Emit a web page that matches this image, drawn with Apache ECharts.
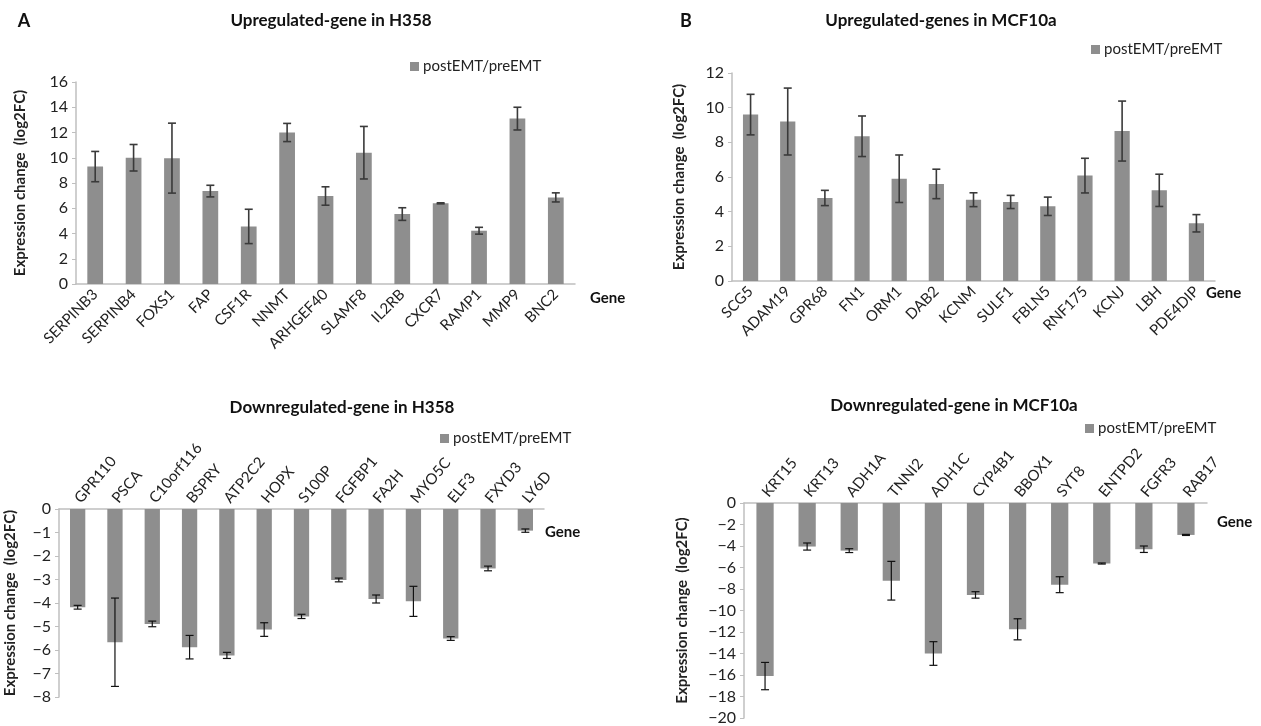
<!DOCTYPE html>
<html><head><meta charset="utf-8">
<script src="https://cdn.jsdelivr.net/npm/echarts@6/dist/echarts.min.js"></script>
<style>html,body{margin:0;padding:0;background:#fff}#c{width:1261px;height:726px}</style>
</head><body><div id="c"></div>
<script>
const catA = ['SERPINB3','SERPINB4','FOXS1','FAP','CSF1R','NNMT','ARHGEF40','SLAMF8','IL2RB','CXCR7','RAMP1','MMP9','BNC2'];
const valA = [9.3, 10.0, 9.97, 7.36, 4.56, 12.0, 6.97, 10.4, 5.54, 6.39, 4.22, 13.1, 6.86];
const errA = [1.2, 1.05, 2.77, 0.46, 1.36, 0.72, 0.73, 2.08, 0.5, 0.04, 0.27, 0.9, 0.36];

const catB = ['SCG5','ADAM19','GPR68','FN1','ORM1','DAB2','KCNM','SULF1','FBLN5','RNF175','KCNJ','LBH','PDE4DIP'];
const valB = [9.6, 9.2, 4.79, 8.35, 5.9, 5.6, 4.69, 4.56, 4.31, 6.08, 8.65, 5.23, 3.33];
const errB = [1.17, 1.93, 0.44, 1.17, 1.37, 0.85, 0.4, 0.38, 0.53, 1.0, 1.73, 0.93, 0.5];

const catC = ['GPR110','PSCA','C10orf116','BSPRY','ATP2C2','HOPX','S100P','FGFBP1','FA2H','MYO5C','ELF3','FXYD3','LY6D'];
const valC = [-4.18, -5.67, -4.89, -5.88, -6.23, -5.13, -4.57, -3.02, -3.83, -3.93, -5.51, -2.53, -0.92];
const errC = [0.08, 1.88, 0.12, 0.5, 0.13, 0.29, 0.09, 0.08, 0.17, 0.64, 0.08, 0.1, 0.07];

const catD = ['KRT15','KRT13','ADH1A','TNNI2','ADH1C','CYP4B1','BBOX1','SYT8','ENTPD2','FGFR3','RAB17'];
const valD = [-16.1, -4.05, -4.43, -7.23, -14.0, -8.55, -11.75, -7.6, -5.63, -4.3, -2.97];
const errD = [1.27, 0.33, 0.18, 1.8, 1.1, 0.3, 0.98, 0.74, 0.05, 0.3, 0.05];

const seriesName = 'postEMT/preEMT';
const FONT = 'Lato';
const axisGray = '#bfbfbf';
const barColor = '#8e8e8e';

const panels = [
  {cat: catA, val: valA, err: errA, grid: {left: 76, top: 82, width: 499, height: 202}, min: 0, max: 16, interval: 2, top: false, rot: 45, nameGap: 48, errColor: '#3a3a3a', errW: 1.6},
  {cat: catB, val: valB, err: errB, grid: {left: 732, top: 73, width: 483, height: 208}, min: 0, max: 12, interval: 2, top: false, rot: 45, nameGap: 45, errColor: '#3a3a3a', errW: 1.6},
  {cat: catC, val: valC, err: errC, grid: {left: 59, top: 509, width: 485, height: 188}, min: -8, max: 0, interval: 1, top: true, rot: 50, nameGap: 41, errColor: '#111', errW: 1.2},
  {cat: catD, val: valD, err: errD, grid: {left: 744, top: 503, width: 463, height: 217}, min: -20, max: 0, interval: 2, top: true, rot: 50, nameGap: 54, errColor: '#111', errW: 1.2}
];

const grids = [], xAxes = [], yAxes = [], series = [];
panels.forEach((p, i) => {
  grids.push(Object.assign({containLabel: false}, p.grid));
  xAxes.push({
    type: 'category', gridIndex: i, data: p.cat, position: p.top ? 'top' : 'bottom',
    axisLine: {lineStyle: {color: axisGray, width: 1.5}}, axisTick: {show: false},
    axisLabel: {interval: 0, rotate: p.rot, fontFamily: FONT, fontSize: 15, color: '#222', margin: 8}
  });
  yAxes.push({
    type: 'value', gridIndex: i, min: p.min, max: p.max, interval: p.interval,
    name: 'Expression change  (log2FC)', nameLocation: 'middle', nameGap: p.nameGap,
    nameTextStyle: {fontFamily: FONT, fontSize: 15, fontWeight: 'bold', color: '#222'},
    axisLine: {show: true, lineStyle: {color: axisGray, width: 1.5}},
    axisTick: {show: true, length: 4, lineStyle: {color: axisGray}},
    splitLine: {show: false},
    axisLabel: {fontFamily: FONT, fontSize: 16, color: '#222', margin: 8,
      formatter: v => String(v).replace('-', '\u2212')}
  });
  series.push({
    name: seriesName, type: 'bar', xAxisIndex: i, yAxisIndex: i, data: p.val,
    barWidth: '41%', itemStyle: {color: barColor}, silent: true
  });
  const ec = p.errColor, ew = p.errW;
  series.push({
    type: 'custom', xAxisIndex: i, yAxisIndex: i, z: 5, silent: true,
    data: p.val.map((v, k) => [k, v, p.err[k]]),
    encode: {x: 0, y: 1},
    renderItem: function (params, api) {
      const x = api.value(0), v = api.value(1), e = api.value(2);
      const a = api.coord([x, v + e]), b = api.coord([x, v - e]);
      const hw = 4;
      const st = {stroke: ec, lineWidth: ew};
      return {type: 'group', children: [
        {type: 'line', shape: {x1: a[0], y1: a[1], x2: b[0], y2: b[1]}, style: st},
        {type: 'line', shape: {x1: a[0] - hw, y1: a[1], x2: a[0] + hw, y2: a[1]}, style: st},
        {type: 'line', shape: {x1: b[0] - hw, y1: b[1], x2: b[0] + hw, y2: b[1]}, style: st}
      ]};
    }
  });
});

const legendPos = [{left: 405, top: 54}, {left: 1086, top: 37}, {left: 435, top: 426}, {left: 1080, top: 416}];
const legends = legendPos.map(pos => ({
  left: pos.left, top: pos.top, data: [{name: seriesName, icon: 'rect'}], itemWidth: 9, itemHeight: 9, itemGap: 4,
  selectedMode: false, textStyle: {fontFamily: FONT, fontSize: 15, color: '#222', padding: [0, 0, 0, -1]}
}));

function txt(x, y, s, size, align) {
  return {type: 'text', x: x, y: y, style: {text: s, fontFamily: FONT, fontSize: size, fontWeight: 'bold', fill: '#111', textAlign: align || 'center', textVerticalAlign: 'middle'}};
}
const graphics = [
  txt(24, 21, 'A', 18), txt(686, 21, 'B', 18),
  txt(331, 21, 'Upregulated-gene in H358', 17),
  txt(941, 21, 'Upregulated-genes in MCF10a', 17),
  txt(342, 408, 'Downregulated-gene in H358', 17),
  txt(954, 406, 'Downregulated-gene in MCF10a', 17),
  txt(590, 298, 'Gene', 15, 'left'),
  txt(1206, 293, 'Gene', 15, 'left'),
  txt(545, 532, 'Gene', 15, 'left'),
  txt(1217, 522, 'Gene', 15, 'left')
];

const chart = echarts.init(document.getElementById('c'), null, {renderer: 'canvas'});
chart.setOption({
  animation: false, backgroundColor: '#fff',
  grid: grids, xAxis: xAxes, yAxis: yAxes, series: series, legend: legends, graphic: graphics
});
</script></body></html>
